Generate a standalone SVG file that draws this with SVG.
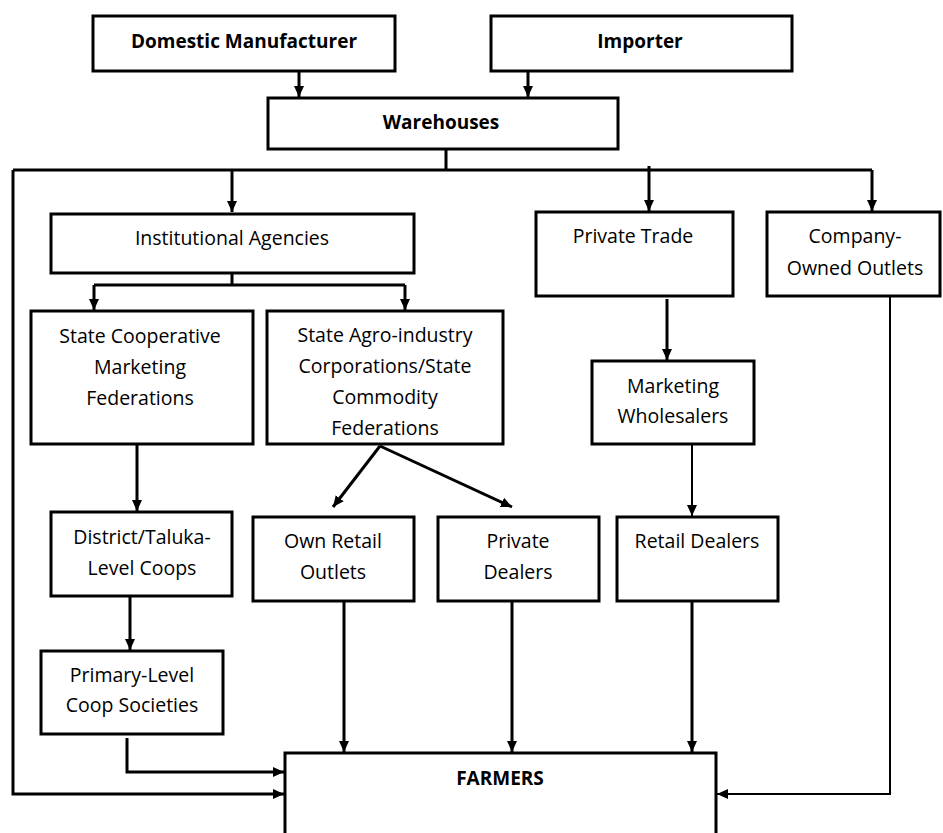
<svg xmlns="http://www.w3.org/2000/svg" width="943" height="833" viewBox="0 0 943 833">
<style>
  .box { fill: #ffffff; stroke: #000000; stroke-width: 3; }
  .t { font-family: "Open Sans", "Liberation Sans", sans-serif; font-size: 19.5px; fill: #000000; text-anchor: middle; }
  .b { font-family: "Open Sans", "Liberation Sans", sans-serif; font-size: 19px; font-weight: bold; fill: #000000; text-anchor: middle; }
  .c { fill: none; stroke: #000000; stroke-width: 3; }
  .thin { stroke-width: 2; }
  .a { marker-end: url(#arr); }
</style>
<defs>
  <marker id="arr" markerUnits="userSpaceOnUse" markerWidth="12" markerHeight="12" viewBox="0 0 12 12" refX="11" refY="6" orient="auto">
    <path d="M0,1 L11,6 L0,11 z" fill="#000000"/>
  </marker>
</defs>
<rect width="943" height="833" fill="#ffffff"/>

<g id="connectors">
  <path class="c a" d="M299,71 V97"/>
  <path class="c a" d="M528,71 V97"/>
  <path class="c" d="M446,149 V170"/>
  <path class="c" d="M13,170 H872"/>
  <path class="c a" d="M13,170 V794 H284"/>
  <path class="c a" d="M232,170 V212"/>
  <path class="c a" d="M649,166 V211"/>
  <path class="c a" d="M872,170 V211"/>
  <path class="c" d="M232,273 V285"/>
  <path class="c" d="M94,285 H405"/>
  <path class="c a" d="M94,285 V310"/>
  <path class="c a" d="M405,285 V310"/>
  <path class="c a" d="M137,444 V511"/>
  <path class="c a" d="M130,596 V650"/>
  <path class="c a" d="M127,738 V772 H284"/>
  <path class="c a" d="M380,446 L333,507"/>
  <path class="c a" d="M380,446 L512,507"/>
  <path class="c a" d="M344,601 V752"/>
  <path class="c a" d="M512,601 V752"/>
  <path class="c a" d="M667,299 V360"/>
  <path class="c thin a" d="M692,444 V516"/>
  <path class="c a" d="M692,601 V752"/>
  <path class="c thin a" d="M890,296 V794 H717"/>
</g>

<g id="domestic-manufacturer">
  <rect class="box" x="93" y="16" width="302" height="55"/>
  <text class="b" x="244" y="48">Domestic Manufacturer</text>
</g>
<g id="importer">
  <rect class="box" x="491" y="16" width="301" height="55"/>
  <text class="b" x="640" y="48">Importer</text>
</g>
<g id="warehouses">
  <rect class="box" x="268" y="98" width="350" height="51"/>
  <text class="b" x="441" y="129">Warehouses</text>
</g>
<g id="institutional-agencies">
  <rect class="box" x="51" y="214" width="363" height="59"/>
  <text class="t" x="232" y="245">Institutional Agencies</text>
</g>
<g id="private-trade">
  <rect class="box" x="536" y="212" width="197" height="84"/>
  <text class="t" x="633" y="243">Private Trade</text>
</g>
<g id="company-owned-outlets">
  <rect class="box" x="767" y="212" width="173" height="84"/>
  <text class="t" x="855" y="243">Company-</text>
  <text class="t" x="855" y="275">Owned Outlets</text>
</g>
<g id="state-coop">
  <rect class="box" x="31" y="311" width="222" height="133"/>
  <text class="t" x="140" y="343">State Cooperative</text>
  <text class="t" x="140" y="374">Marketing</text>
  <text class="t" x="140" y="405">Federations</text>
</g>
<g id="state-agro">
  <rect class="box" x="267" y="311" width="236" height="133"/>
  <text class="t" x="385" y="342">State Agro-industry</text>
  <text class="t" x="385" y="373">Corporations/State</text>
  <text class="t" x="385" y="404">Commodity</text>
  <text class="t" x="385" y="435">Federations</text>
</g>
<g id="marketing-wholesalers">
  <rect class="box" x="592" y="361" width="162" height="83"/>
  <text class="t" x="673" y="393">Marketing</text>
  <text class="t" x="673" y="423">Wholesalers</text>
</g>
<g id="district-coops">
  <rect class="box" x="51" y="512" width="181" height="84"/>
  <text class="t" x="142" y="544">District/Taluka-</text>
  <text class="t" x="142" y="575">Level Coops</text>
</g>
<g id="own-retail-outlets">
  <rect class="box" x="253" y="517" width="161" height="84"/>
  <text class="t" x="333" y="548">Own Retail</text>
  <text class="t" x="333" y="579">Outlets</text>
</g>
<g id="private-dealers">
  <rect class="box" x="438" y="517" width="161" height="84"/>
  <text class="t" x="518" y="548">Private</text>
  <text class="t" x="518" y="579">Dealers</text>
</g>
<g id="retail-dealers">
  <rect class="box" x="617" y="517" width="161" height="84"/>
  <text class="t" x="697" y="548">Retail Dealers</text>
</g>
<g id="primary-coops">
  <rect class="box" x="41" y="651" width="182" height="83"/>
  <text class="t" x="132" y="682">Primary-Level</text>
  <text class="t" x="132" y="712">Coop Societies</text>
</g>
<g id="farmers">
  <rect class="box" x="285" y="753" width="431" height="100"/>
  <text class="b" x="500" y="785">FARMERS</text>
</g>
</svg>
